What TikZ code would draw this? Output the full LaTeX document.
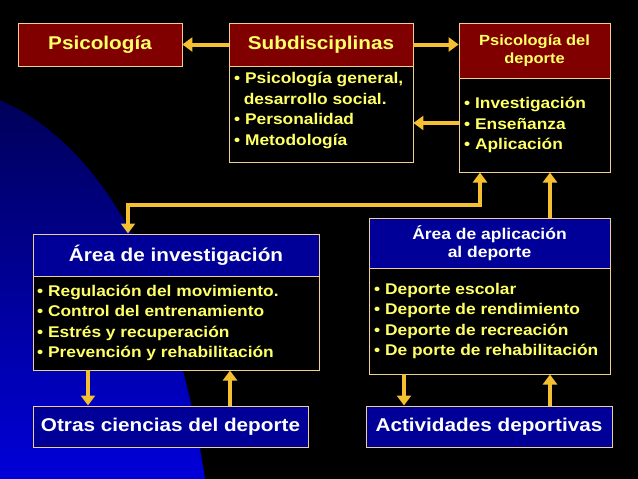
\documentclass[tikz,border=0pt]{standalone}
\usepackage{fontspec}
\setmainfont[FakeStretch=1.12]{Liberation Sans}
\usetikzlibrary{arrows.meta}
\definecolor{redbox}{HTML}{800000}
\definecolor{bluebox}{HTML}{000099}
\definecolor{ytext}{HTML}{FFFF66}
\definecolor{arr}{HTML}{F4BF30}
\definecolor{edge}{HTML}{F0D090}
\tikzset{
 box/.style={draw=edge,line width=0.8pt,inner sep=0pt,font=\bfseries},
 redh/.style={box,fill=redbox,text=ytext,font=\bfseries\fontsize{18.5}{20}\selectfont},
 blueh/.style={box,fill=bluebox,text=white,font=\bfseries\fontsize{18.5}{20}\selectfont},
 body/.style={box,fill=black},
 btext/.style={inner sep=0pt,text=ytext,align=left,font=\bfseries\fontsize{15.5}{20.5}\selectfont},
 con/.style={arr,line width=4pt,-{Triangle[length=10pt,width=14pt]}}
}
\begin{document}
\begin{tikzpicture}[x=1pt,y=-1pt]
\fill[black] (0,0) rectangle (638,479);
\shade[top color=blue!35!black, bottom color=blue!85!black] (0,100) .. controls (90,140) and (170,250) .. (205,479) -- (0,479) -- cycle;
\useasboundingbox (0,0) rectangle (638,479);
% top row
\node[redh,minimum width=164pt,minimum height=43pt] (psi) at (100,44.5) {Psicología};
\node[redh,minimum width=184pt,minimum height=43pt] (sub) at (321,44.5) {Subdisciplinas};
\node[body,minimum width=184pt,minimum height=96pt] (subc) at (321,114) {};
\node[btext,anchor=north west] (subt) at (234,72) {• Psicología general,\\\ \ desarrollo social.\\• Personalidad\\• Metodología};
\node[redh,minimum width=151pt,minimum height=55pt,align=center,font=\bfseries\fontsize{14.7}{18}\selectfont] (pdep) at (534.5,50.5) {Psicología del\\deporte};
\node[body,minimum width=151pt,minimum height=94pt] (pdepc) at (534.5,125) {};
\node[btext,anchor=west] (pdept) at (464,125) {• Investigación\\• Enseñanza\\• Aplicación};
% middle
\node[blueh,minimum width=286pt,minimum height=42pt] (inv) at (176,255) {Área de investigación};
\node[body,minimum width=286pt,minimum height=94pt] (invc) at (176,323) {};
\node[btext,anchor=west] (invt) at (37,323) {• Regulación del movimiento.\\• Control del entrenamiento\\• Estrés y recuperación\\• Prevención y rehabilitación};
\node[blueh,minimum width=241pt,minimum height=50pt,align=center,font=\bfseries\fontsize{15.6}{18}\selectfont] (apl) at (489.5,243) {Área de aplicación\\al deporte};
\node[body,minimum width=241pt,minimum height=106pt] (aplc) at (489.5,321) {};
\node[btext,anchor=west] (aplt) at (374,321) {• Deporte escolar\\• Deporte de rendimiento\\• Deporte de recreación\\• De porte de rehabilitación};
% bottom
\node[blueh,minimum width=275pt,minimum height=41pt] (otr) at (170.5,426.5) {Otras ciencias del deporte};
\node[blueh,minimum width=246pt,minimum height=41pt] (act) at (489,426.5) {Actividades deportivas};
% connectors
\draw[con] (sub.west) -- (psi.east);
\draw[con] (sub.east) -- (pdep.west|-sub.east);
\draw[con] (pdepc.west|-0,123) -- (subc.east|-0,123);
\draw[con] (480,205) -- (480,172.5);
\draw[con] (482,205) -- (128,205) -- (128,233.5);
\draw[con] (apl.north-|550,0) -- (550,172.5);
\draw[con] (88,370) -- (88,405.5);
\draw[con] (230,406) -- (230,370.5);
\draw[con] (404,374) -- (404,405.5);
\draw[con] (550,406) -- (550,374.5);
\end{tikzpicture}
\end{document}
